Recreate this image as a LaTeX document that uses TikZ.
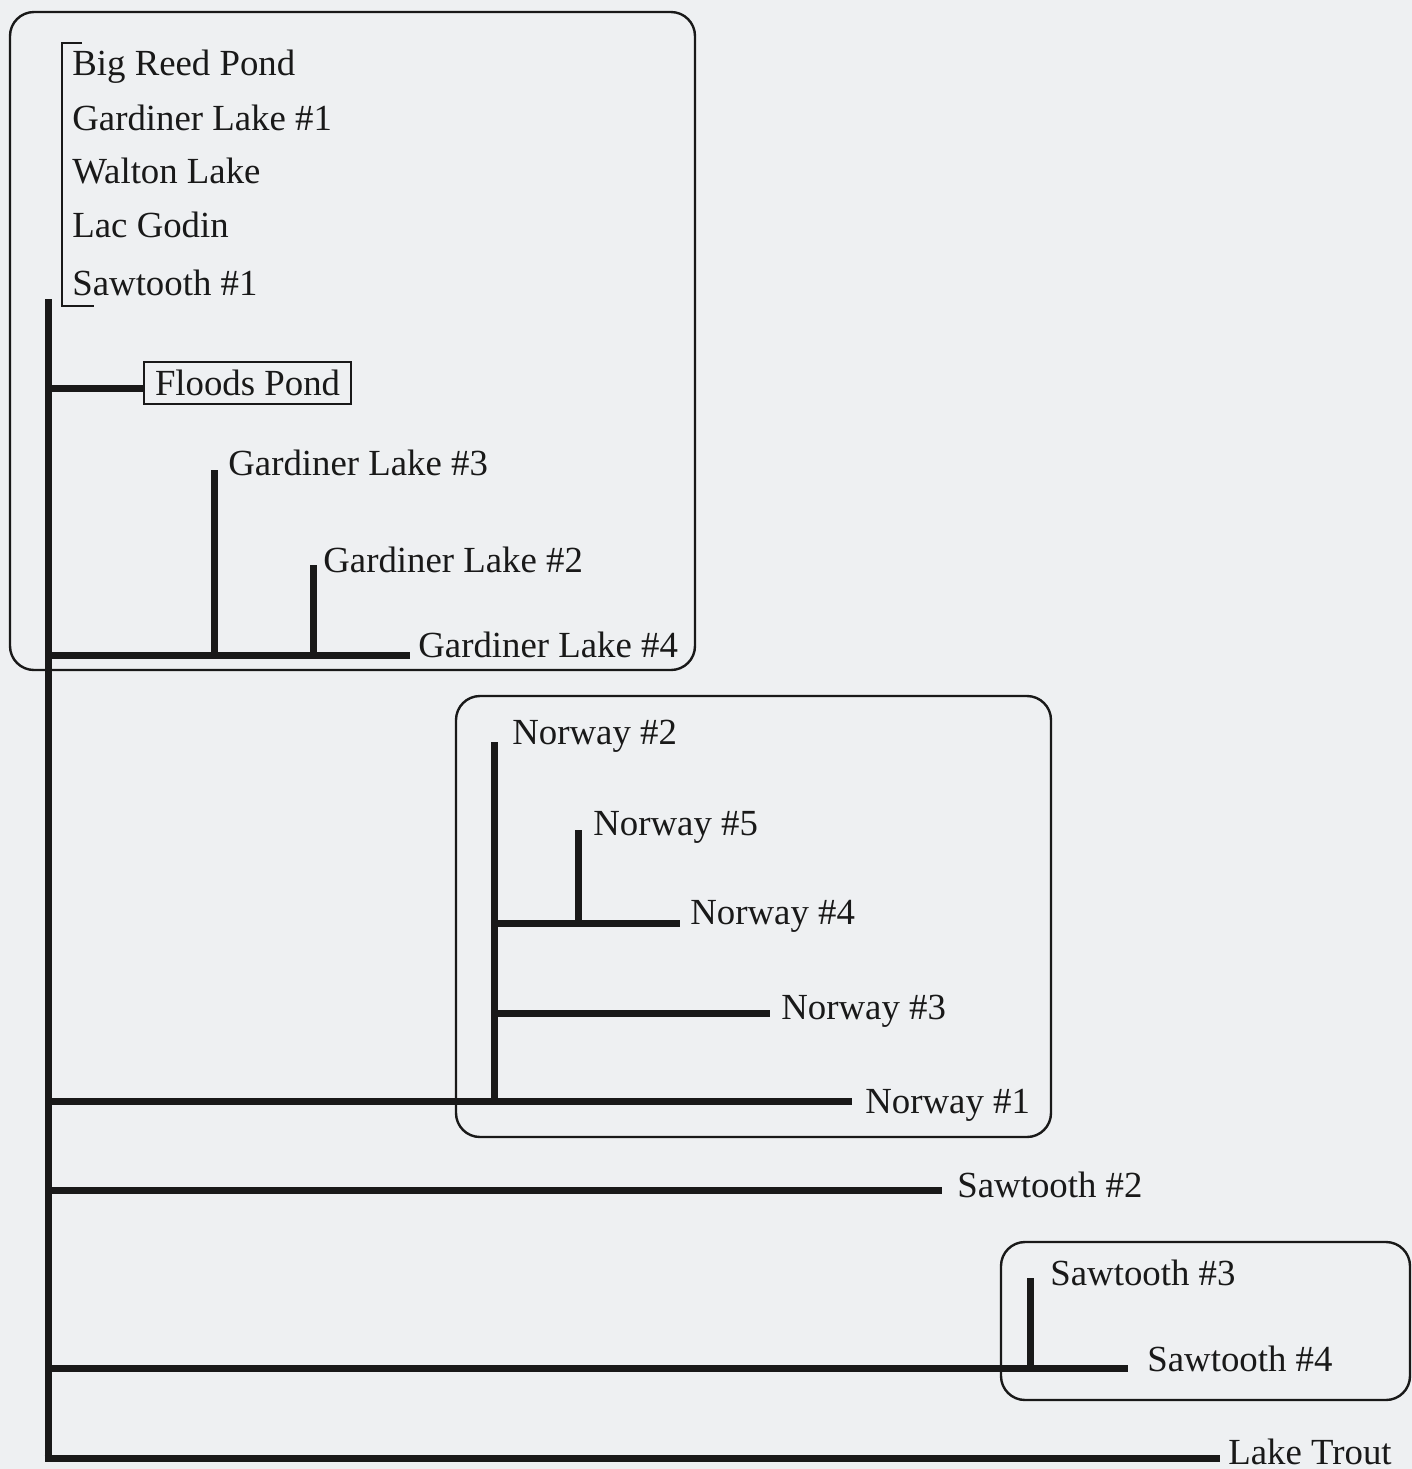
\documentclass[tikz,border=0pt]{standalone}
\usepackage{fontspec}
\setmainfont{Liberation Serif}
\definecolor{paper}{RGB}{238,240,242}
\definecolor{ink}{RGB}{25,25,25}
\begin{document}
\begin{tikzpicture}[x=0.5pt,y=-0.5pt,
  lbl/.style={anchor=base west,inner sep=0pt,font=\fontsize{18.4pt}{20pt}\selectfont,text=ink},
  branch/.style={draw=ink,line width=3.5pt},
  groupbox/.style={draw=ink,line width=1.2pt,rounded corners=12pt},
  thin/.style={draw=ink,line width=1pt}]
\fill[paper] (0,0) rectangle (1412,1469);
\useasboundingbox (0,0) rectangle (1412,1469);

% group boxes
\draw[groupbox] (10,12) rectangle (695,670);
\draw[groupbox] (456,696) rectangle (1051,1137);
\draw[groupbox] (1001,1242) rectangle (1410,1400);

% top unresolved group
\node[lbl] (brp) at (72,75) {Big Reed Pond};
\node[lbl] (gl1) at (72,130) {Gardiner Lake \#1};
\node[lbl] (wl) at (72,183) {Walton Lake};
\node[lbl] (lg) at (72,237) {Lac Godin};
\node[lbl] (st1) at (72,295) {Sawtooth \#1};
\coordinate (bt) at (62,43);
\coordinate (bb) at (62,306);
\draw[thin] ([xshift=10]bt) -- (bt) -- (bb) -- ([xshift=16]bb);

% main trunk
\coordinate (root) at (48,295);
\coordinate (jf) at (48,388);
\coordinate (jg) at (48,655);
\coordinate (jn) at (48,1101);
\coordinate (js2) at (48,1190);
\coordinate (js) at (48,1368);
\coordinate (jt) at (48,1458);
\draw[branch] ([yshift=-2]root) -- ([yshift=1.75]jt);

% Floods Pond
\node[lbl,draw=ink,line width=1pt,inner xsep=5.5pt,inner ysep=4pt,anchor=west] (fp) at (143,383) {Floods Pond};
\draw[branch] (jf) -- (jf -| fp.west);

% Gardiner group
\node[lbl] (gl3) at (228,475) {Gardiner Lake \#3};
\node[lbl] (gl2) at (323,572) {Gardiner Lake \#2};
\node[lbl] (gl4) at (418,657) {Gardiner Lake \#4};
\coordinate (g3t) at (214,470);
\coordinate (g3b) at (214,655);
\coordinate (g2t) at (313,565);
\coordinate (g2b) at (313,655);
\coordinate (g4e) at (410,655);
\draw[branch] (jg) -- (g4e);
\draw[branch] (g3t) -- (g3b);
\draw[branch] (g2t) -- (g2b);

% Norway group
\node[lbl] (n2) at (512,744) {Norway \#2};
\node[lbl] (n5) at (593,835) {Norway \#5};
\node[lbl] (n4) at (690,924) {Norway \#4};
\node[lbl] (n3) at (781,1019) {Norway \#3};
\node[lbl] (n1) at (865,1113) {Norway \#1};
\coordinate (nt) at (494,742);
\coordinate (nb) at (494,1101);
\coordinate (n4j) at (494,923);
\coordinate (n4e) at (680,923);
\coordinate (n5t) at (578,830);
\coordinate (n5b) at (578,923);
\coordinate (n3j) at (494,1013);
\coordinate (n3e) at (770,1013);
\coordinate (n1e) at (852,1101);
\draw[branch] (jn) -- (n1e);
\draw[branch] (nt) -- (nb);
\draw[branch] (n4j) -- (n4e);
\draw[branch] (n5t) -- (n5b);
\draw[branch] (n3j) -- (n3e);

% Sawtooth #2
\node[lbl] (s2) at (957,1197) {Sawtooth \#2};
\coordinate (s2e) at (942,1190);
\draw[branch] (js2) -- (s2e);

% Sawtooth #3/#4
\node[lbl] (s3) at (1050,1285) {Sawtooth \#3};
\node[lbl] (s4) at (1147,1371) {Sawtooth \#4};
\coordinate (s3t) at (1030,1278);
\coordinate (s3b) at (1030,1368);
\coordinate (s4e) at (1128,1368);
\draw[branch] (js) -- (s4e);
\draw[branch] (s3t) -- (s3b);

% Lake Trout
\node[lbl] (lt) at (1228,1464) {Lake Trout};
\coordinate (lte) at (1220,1458);
\draw[branch] ([xshift=-1.75]jt) -- (lte);
\end{tikzpicture}
\end{document}
